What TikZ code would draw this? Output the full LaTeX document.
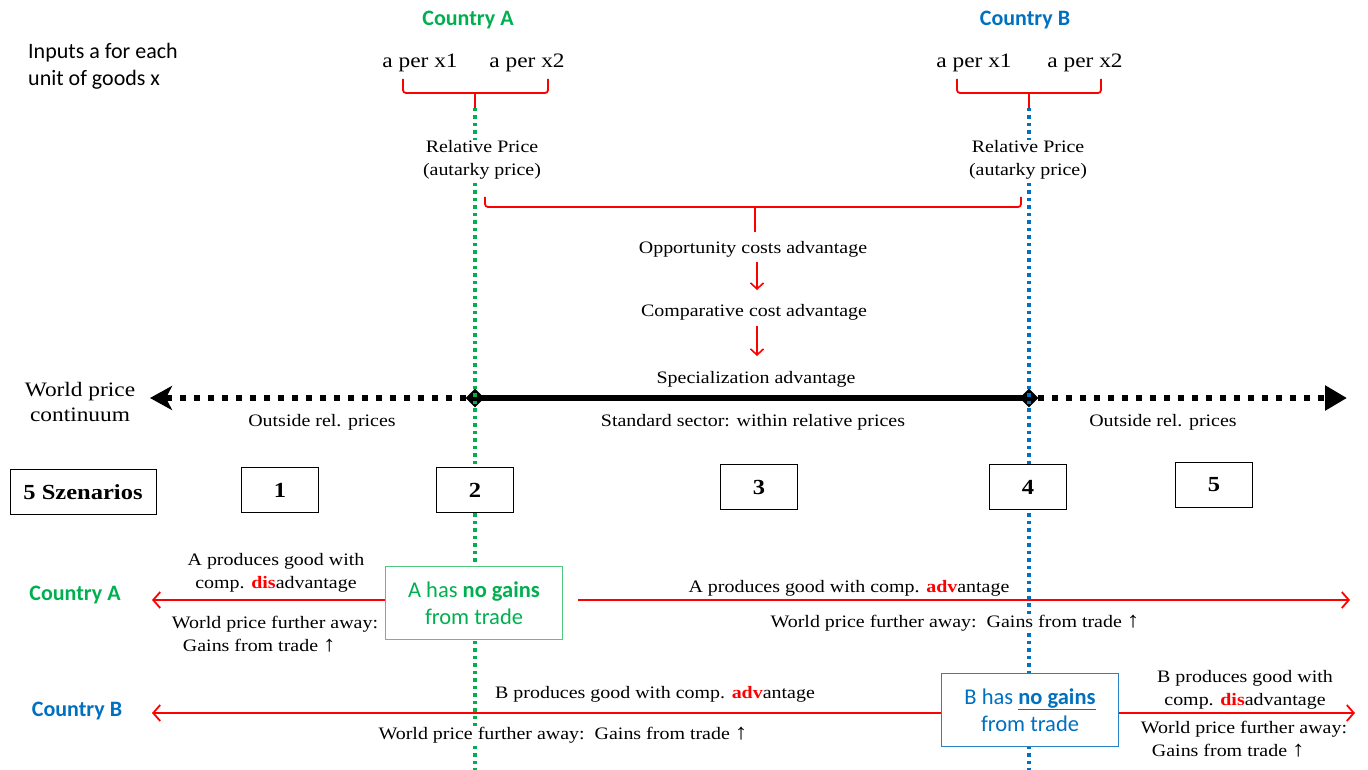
\documentclass[tikz,border=0pt]{standalone}
\usepackage{fontspec}
\setmainfont[FakeStretch=1.14]{Liberation Serif}
\newfontfamily\calfont{Carlito}
\usetikzlibrary{arrows.meta,shapes.geometric}
\definecolor{cgreen}{RGB}{0,176,80}
\definecolor{cblue}{RGB}{0,112,192}
\definecolor{cred}{RGB}{255,0,0}
\definecolor{boxgreen}{RGB}{80,200,130}
\definecolor{boxblue}{RGB}{40,130,200}
\newcommand{\dis}{{\color{cred}\bfseries dis}}
\newcommand{\adv}{{\color{cred}\bfseries adv}}
\newcommand{\upar}{\ {\fontsize{22}{23}\selectfont ↑}}
\begin{document}
\begin{tikzpicture}[x=1pt,y=-1pt,
  ser/.style={font=\fontsize{17.5}{23}\selectfont, inner sep=1pt, align=center, fill=white, yshift=-2pt},
  bigser/.style={font=\fontsize{20.5}{25}\selectfont, inner sep=1pt, align=center},
  sanstxt/.style={font=\calfont\fontsize{22}{27}\selectfont, inner sep=0pt, align=left},
  ctitle/.style={font=\calfont\bfseries\fontsize{22}{24}\selectfont, inner sep=0pt},
  numbox/.style={draw, line width=1pt, minimum width=77pt, minimum height=45pt, fill=white, inner sep=0pt, font=\bfseries\fontsize{21.5}{24}\selectfont},
  gainbox/.style={draw, line width=1.2pt, minimum width=177pt, minimum height=73pt, fill=white, inner sep=0pt, align=center, font=\calfont\fontsize{22.5}{27}\selectfont},
  bracestyle/.style={draw=cred, line width=1.8pt, rounded corners=3pt},
  redarr/.style={draw=cred, line width=1.8pt, -{Straight Barb[length=7pt,width=16pt,line width=1.8pt]}},
  downarr/.style={draw=cred, line width=1.6pt, -{Straight Barb[length=6pt,width=13pt,line width=1.6pt]}},
  vdot/.style={line width=3.5pt, dash pattern=on 3.5pt off 4pt},
  bigdot/.style={line width=6.5pt, dash pattern=on 6pt off 8pt},
  endpt/.style={diamond, fill=black, minimum size=19pt, inner sep=0pt}
]
\useasboundingbox (0,0) rectangle (1368,770);

% ---------- world price continuum ----------
\coordinate (pA) at (475,398);
\coordinate (pB) at (1029,398);
\coordinate (leftend) at (150,398);
\coordinate (rightend) at (1347,398);
\draw[line width=6.5pt] (pA) -- (pB);
\draw[bigdot, -{Stealth[length=22pt,width=24pt,inset=6pt]}] (466,398) -- (leftend);
\draw[bigdot, -{Triangle[length=22pt,width=24pt]}] (1038,398) -- (rightend);
\node[endpt] (dA) at (pA) {};
\node[endpt] (dB) at (pB) {};

% ---------- vertical dotted lines ----------
\coordinate (topA) at (475,108);
\coordinate (botA) at (475,770);
\coordinate (topB) at (1029,108);
\coordinate (botB) at (1029,770);
\draw[vdot, cgreen] (topA) -- (botA);
\draw[vdot, cblue] (topB) -- (botB);

% ---------- titles ----------
\node[ctitle, text=cgreen] (tA) at (468,20) {Country A};
\node[ctitle, text=cblue] (tB) at (1025,20) {Country B};
\node[sanstxt, anchor=west] (inputs) at (28,66) {Inputs a for each\\unit of goods x};

% ---------- inputs ----------
\node[bigser] (a1A) at (420,63) {a per x1};
\node[bigser] (a2A) at (527,63) {a per x2};
\node[bigser] (a1B) at (974,63) {a per x1};
\node[bigser] (a2B) at (1085,63) {a per x2};

% small braces
\draw[bracestyle] (403,79) -- (403,93) -- (548,93) -- (548,79);
\draw[bracestyle] (475,93) -- (topA);
\draw[bracestyle] (957,79) -- (957,93) -- (1101,93) -- (1101,79);
\draw[bracestyle] (1029,93) -- (topB);

% relative prices
\node[ser] (rpA) at (482,158) {Relative Price\\(autarky price)};
\node[ser] (rpB) at (1028,158) {Relative Price\\(autarky price)};

% big brace
\coordinate (bigtip) at (755,232);
\draw[bracestyle] (485,197) -- (485,207) -- (1021,207) -- (1021,197);
\draw[bracestyle] (755,207) -- (bigtip);

\node[ser] (opp) at (753,247) {Opportunity costs advantage};
\node[ser] (comp) at (754,310) {Comparative cost advantage};
\node[ser] (spec) at (756,377) {Specialization advantage};
\draw[downarr] (757,262) -- (757,290);
\draw[downarr] (757,326) -- (757,356);

\node[font=\fontsize{20.5}{25}\selectfont, align=center, inner sep=0pt] (wpc) at (80,402) {World price\\continuum};
\node[ser] (out1) at (322,420) {Outside rel. prices};
\node[ser] (std) at (753,420) {Standard sector: within relative prices};
\node[ser] (out2) at (1163,420) {Outside rel. prices};

% ---------- scenarios ----------
\node[numbox, minimum width=146pt] (sz) at (83,492) {5 Szenarios};
\node[numbox] (s1) at (280,490) {1};
\node[numbox] (s2) at (475,490) {2};
\node[numbox] (s3) at (759,487) {3};
\node[numbox] (s4) at (1028,487) {4};
\node[numbox] (s5) at (1214,485) {5};

% ---------- country A row ----------
\node[ctitle, text=cgreen] (rowA) at (75,595) {Country A};
\node[gainbox, draw=boxgreen, text=cgreen] (noA) at (474,603) {A has \textbf{no gains}\\from trade};
\coordinate (Aleft) at (152,600);
\coordinate (Astart) at (578,600);
\coordinate (Aright) at (1350,600);
\draw[redarr] (noA.west |- Aleft) -- (Aleft);
\draw[redarr] (Astart) -- (Aright);
\node[ser, fill=none] (Adis) at (276,571) {A produces good with\\comp. \dis advantage};
\node[ser, align=left] (Aw1) at (275,632) {World price further away:\\\hspace*{11pt}Gains from trade\upar};
\node[ser] (Aadv) at (849,586) {A produces good with comp. \adv antage};
\node[ser] (Aw2) at (955,621) {World price further away:\ \ Gains from trade\upar};

% ---------- country B row ----------
\node[ctitle, text=cblue] (rowB) at (77,711) {Country B};
\node[gainbox, draw=boxblue, text=cblue] (noB) at (1030,710) {B has \underline{\textbf{no gains}}\\from trade};
\coordinate (Bleft) at (152,713);
\coordinate (Bright) at (1355,713);
\draw[redarr] (noB.west |- Bleft) -- (Bleft);
\draw[redarr] (noB.east |- Bright) -- (Bright);
\node[ser, fill=none] (Badv) at (655,692) {B produces good with comp. \adv antage};
\node[ser] (Bw1) at (563,733) {World price further away:\ \ Gains from trade\upar};
\node[ser, fill=none] (Bdis) at (1245,688) {B produces good with\\comp. \dis advantage};
\node[ser, align=left, fill=none] (Bw2) at (1244,737) {World price further away:\\\hspace*{11pt}Gains from trade\upar};
\end{tikzpicture}
\end{document}
